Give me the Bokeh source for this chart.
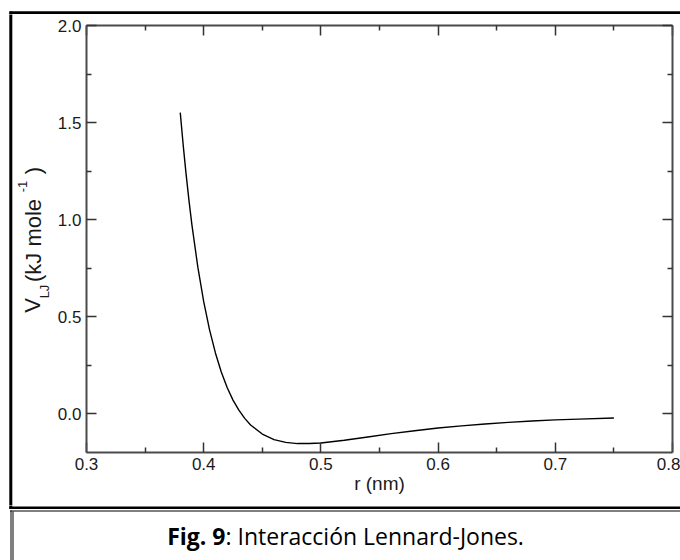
import math
from bokeh.plotting import figure
from bokeh.layouts import column, row
from bokeh.models import (Range1d, FixedTicker, PrintfTickFormatter, LinearAxis,
                          CustomJSTickFormatter)
from bokeh.core.properties import value
from bokeh.embed import file_html
from bokeh.resources import INLINE

# ---- data (Lennard-Jones potential) ----
r_nm = [0.380, 0.3825, 0.385, 0.3875, 0.390, 0.395, 0.400, 0.405, 0.410, 0.415,
        0.420, 0.425, 0.430, 0.435, 0.440, 0.450, 0.460, 0.470, 0.480, 0.490,
        0.500, 0.520, 0.540, 0.560, 0.580, 0.600, 0.620, 0.640, 0.660, 0.680,
        0.700, 0.720, 0.750]
v_lj = [1.551, 1.384, 1.233, 1.095, 0.970, 0.755, 0.577, 0.432, 0.313, 0.215,
        0.135, 0.070, 0.018, -0.024, -0.058, -0.105, -0.134, -0.148, -0.154, -0.154,
        -0.151, -0.137, -0.120, -0.103, -0.088, -0.074, -0.063, -0.053, -0.045, -0.038,
        -0.032, -0.028, -0.022]

x_ticks = [0.3, 0.4, 0.5, 0.6, 0.7, 0.8]
x_minor = [0.35, 0.45, 0.55, 0.65, 0.75]
y_ticks = [0.0, 0.5, 1.0, 1.5, 2.0]
y_minor = [0.25, 0.75, 1.25, 1.75]

x_label = "r (nm)"
y_label_parts = ["V", "LJ", "(kJ mole", "-1", ")"]
caption_bold = "Fig. 9"
caption_rest = ": Interacción Lennard-Jones."

FONT = "Liberation Sans"
CAPFONT = "Open Sans"
TXT = "#1a1a1a"

# ---- page geometry (pixels) ----
W, H = 680, 560
TOP_H = 14          # top strip (y 0..14)
BOT_Y = 505         # bottom strip starts here
LEFT_W = 54         # y-label strip width
MAIN_W = W - LEFT_W
MAIN_H = BOT_Y - TOP_H


def strip(x0, x1, y0, y1):
    """figure whose frame is its whole canvas, coordinates = page pixels (y up = H - py)"""
    f = figure(width=int(x1 - x0), height=int(y1 - y0), output_backend="svg",
               toolbar_location=None, x_range=Range1d(x0, x1),
               y_range=Range1d(H - y1, H - y0),
               x_axis_location=None, y_axis_location=None, title=None,
               min_border=0, min_border_left=0, min_border_right=0,
               min_border_top=0, min_border_bottom=0, frame_align=False)
    f.outline_line_color = None
    f.grid.visible = False
    f.background_fill_color = "white"
    f.border_fill_color = "white"
    return f


def hline(f, x0, x1, py, w):
    f.line([x0, x1], [H - py, H - py], line_color="black", line_width=w)


def vline(f, px, y0, y1, w):
    f.line([px, px], [H - y0, H - y1], line_color="black", line_width=w)


# ---- top strip: top edge of the document frame ----
top_strip = strip(0, W, 0, TOP_H)
hline(top_strip, 9, W + 5, 12.3, 3)
vline(top_strip, 10.3, 11, TOP_H + 2, 3)

# ---- left strip: frame edge + y axis label ----
left_strip = strip(0, LEFT_W, TOP_H, BOT_Y)
vline(left_strip, 10.3, TOP_H - 2, BOT_Y + 2, 3)
# (text, x centre, y centre) in page pixels
big = [(y_label_parts[0], 32, 305), (y_label_parts[2], 33, 240), (y_label_parts[4], 33, 170)]
small = [(y_label_parts[1], 44, 291), (y_label_parts[3], 22, 186)]
for items, fs in ((big, "22px"), (small, "13px")):
    left_strip.text(x=[i[1] for i in items], y=[H - i[2] for i in items],
                    text=[i[0] for i in items], angle=math.pi / 2,
                    text_font=value(FONT), text_font_size=value(fs),
                    text_color=TXT, text_align="center", text_baseline="middle")

# ---- main chart ----
FL, FR, FT, FB = 86, 670, 25, 452
p = figure(width=MAIN_W, height=MAIN_H, output_backend="svg", toolbar_location=None,
           x_range=Range1d(0.3, 0.8), y_range=Range1d(-0.2, 2.0),
           min_border_left=FL - LEFT_W, min_border_right=W - FR - 2,
           min_border_top=FT - TOP_H, min_border_bottom=BOT_Y - FB, frame_align=False)
p.outline_line_color = None
p.grid.visible = False
p.background_fill_color = "white"
p.border_fill_color = "white"


def style_axis(ax, labels=True):
    ax.axis_line_color = "#4a4a4a"
    ax.axis_line_width = 2
    ax.major_tick_line_color = "#333333"
    ax.major_tick_line_width = 1.5
    ax.minor_tick_line_color = "#333333"
    ax.minor_tick_line_width = 1.5
    ax.major_tick_in = 10
    ax.major_tick_out = 0
    ax.minor_tick_in = 5
    ax.minor_tick_out = 0
    ax.major_label_text_font = FONT
    ax.major_label_text_color = TXT
    ax.major_label_text_font_size = "17px"
    if labels:
        ax.major_label_standoff = 5
    else:
        ax.formatter = CustomJSTickFormatter(code="return ''")
        ax.major_label_standoff = 0


xa = p.xaxis[0]
xa.ticker = FixedTicker(ticks=x_ticks, minor_ticks=x_minor)
xa.formatter = PrintfTickFormatter(format="%.1f")
style_axis(xa)
xa.axis_label = x_label
xa.axis_label_text_font = FONT
xa.axis_label_text_font_size = "19px"
xa.axis_label_text_font_style = "normal"
xa.axis_label_text_color = TXT
xa.axis_label_standoff = 0

ya = p.yaxis[0]
ya.ticker = FixedTicker(ticks=y_ticks, minor_ticks=y_minor)
ya.formatter = PrintfTickFormatter(format="%.1f")
style_axis(ya)

top_ax = LinearAxis(ticker=FixedTicker(ticks=x_ticks, minor_ticks=x_minor))
style_axis(top_ax, labels=False)
p.add_layout(top_ax, "above")
right_ax = LinearAxis(ticker=FixedTicker(ticks=y_ticks, minor_ticks=y_minor))
style_axis(right_ax, labels=False)
p.add_layout(right_ax, "right")

p.line(r_nm, v_lj, line_color="black", line_width=1.4)

# ---- bottom strip: frame bottom, double rule, caption ----
bot_strip = strip(0, W, BOT_Y, H)
vline(bot_strip, 10.3, BOT_Y - 2, 508.5, 3)
hline(bot_strip, 9, W + 5, 507.3, 2.5)
hline(bot_strip, 9.5, W + 5, 510.5, 1)
vline(bot_strip, 10.5, 510, H + 5, 1)
vline(bot_strip, 12.5, 511, H + 5, 1)
bot_strip.text(x=[225], y=[H - 535], text=[caption_bold], text_font=value(CAPFONT),
               text_font_style="bold", text_font_size=value("23px"), text_color="black",
               text_align="right", text_baseline="middle")
bot_strip.text(x=[225], y=[H - 535], text=[caption_rest], text_font=value(CAPFONT),
               text_font_size=value("23px"), text_color="black",
               text_align="left", text_baseline="middle")

layout = column(top_strip, row(left_strip, p, spacing=0), bot_strip, spacing=0)
open("out.html", "w").write(file_html(layout, INLINE))
